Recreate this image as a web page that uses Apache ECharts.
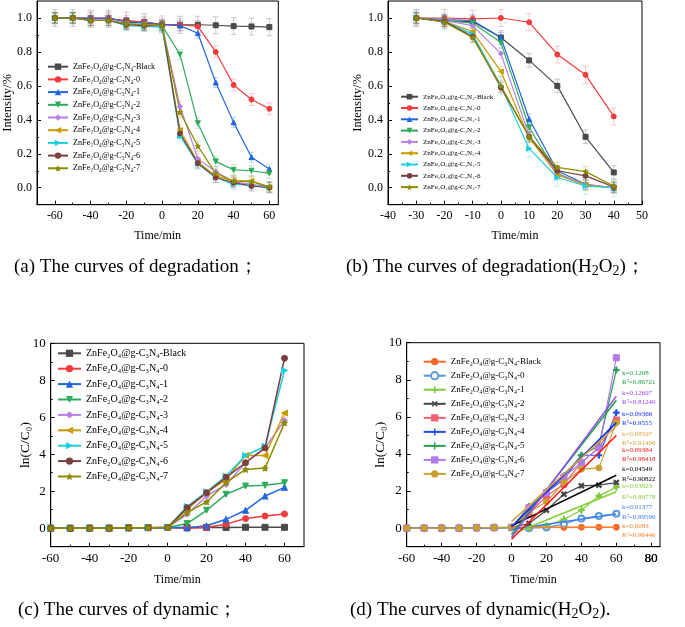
<!DOCTYPE html>
<html><head><meta charset="utf-8">
<script src="https://cdn.jsdelivr.net/npm/echarts@6/dist/echarts.min.js"></script>
<style>html,body{margin:0;padding:0;background:#fff}#c{width:685px;height:627px}</style>
</head><body><div id="c"></div>
<script>
// ---------------- DATA ----------------
const seriesLabels = ['ZnFe₂O₄@g-C₃N₄-Black','ZnFe₂O₄@g-C₃N₄-0','ZnFe₂O₄@g-C₃N₄-1','ZnFe₂O₄@g-C₃N₄-2',
  'ZnFe₂O₄@g-C₃N₄-3','ZnFe₂O₄@g-C₃N₄-4','ZnFe₂O₄@g-C₃N₄-5','ZnFe₂O₄@g-C₃N₄-6','ZnFe₂O₄@g-C₃N₄-7'];

// (a) degradation
const timeA = [-60,-50,-40,-30,-20,-10,0,10,20,30,40,50,60];
const degA = [
  [1.0,1.0,0.995,0.995,0.985,0.975,0.962,0.96,0.96,0.957,0.952,0.95,0.946],
  [1.0,1.0,1.0,1.0,0.98,0.975,0.96,0.96,0.95,0.80,0.605,0.52,0.465],
  [1.0,1.0,1.0,1.0,0.975,0.97,0.96,0.955,0.91,0.62,0.385,0.18,0.11],
  [1.0,1.0,0.985,0.985,0.965,0.96,0.955,0.785,0.38,0.155,0.105,0.10,0.085],
  [1.0,1.0,0.985,0.99,0.965,0.96,0.955,0.48,0.17,0.095,0.035,0.02,0.005],
  [1.0,1.0,0.985,0.985,0.965,0.96,0.955,0.34,0.15,0.07,0.04,0.04,0.005],
  [1.0,1.0,0.985,0.985,0.955,0.95,0.945,0.305,0.14,0.06,0.02,0.015,0.0],
  [1.0,1.0,0.985,0.985,0.96,0.955,0.955,0.32,0.145,0.06,0.03,0.01,0.0],
  [1.0,1.0,0.985,0.985,0.965,0.96,0.955,0.445,0.245,0.085,0.04,0.035,0.005]
];
const errA = [0.05,0.035,0.03,0.03,0.03,0.03,0.03,0.03,0.03];

// (b) degradation (H2O2)
const timeB = [-30,-20,-10,0,10,20,30,40];
const degB = [
  [1.0,0.98,0.98,0.885,0.75,0.60,0.30,0.09],
  [1.0,1.0,0.995,1.0,0.975,0.785,0.665,0.42],
  [1.0,0.99,0.985,0.885,0.405,0.10,0.02,0.0],
  [1.0,0.985,0.97,0.855,0.355,0.085,0.015,0.0],
  [1.0,0.985,0.955,0.79,0.31,0.08,0.02,0.0],
  [1.0,0.98,0.92,0.685,0.295,0.075,0.015,0.0],
  [1.0,0.98,0.905,0.60,0.23,0.06,0.01,0.0],
  [1.0,0.98,0.89,0.59,0.30,0.10,0.07,0.005],
  [1.0,0.975,0.885,0.60,0.30,0.12,0.095,0.01]
];
const errB = [0.04,0.05,0.03,0.03,0.03,0.03,0.05,0.03,0.03];

// (c)/(d) ln(C/C0)
const timeC = [-60,-50,-40,-30,-20,-10,0,10,20,30,40,50,60];
const lnC = [
  [0,0,0.01,0.01,0.02,0.03,0.04,0.04,0.04,0.04,0.05,0.05,0.05],
  [0,0,0,0,0.02,0.03,0.04,0.0,0.04,0.22,0.52,0.66,0.77],
  [0,0,0,0,0.02,0.03,0.04,0.02,0.13,0.48,0.97,1.74,2.21],
  [0,0,0,0,0.02,0.03,0.04,0.25,0.97,1.83,2.28,2.32,2.46],
  [0,0,0,0,0.02,0.03,0.04,0.75,1.74,2.37,3.54,4.34,5.83],
  [0,0,0,0,0.02,0.03,0.04,1.02,1.92,2.64,3.93,3.93,6.23],
  [0,0,0,0,0.02,0.03,0.04,1.17,1.97,2.82,3.93,4.43,8.53],
  [0,0,0,0,0.02,0.03,0.04,1.11,1.92,2.75,3.54,4.34,9.19],
  [0,0,0,0,0.02,0.03,0.04,0.84,1.42,2.46,3.18,3.25,5.69]
];

// (d) linear fits (0..60 min)
const fitX = [0,60];
const fitStart = [0.03,-0.07,-0.33,0.12,-0.6,0.07,-0.35,-0.5,0.35];
const fitEnd   = [0.05,0.76,1.96,2.85,5.0,5.69,6.9,7.12,5.5];
const fitK  = ['0.0003','0.01377','0.03823','0.04549','0.09384','0.09366','0.1208','0.12697','0.08597'];
const fitR2 = ['0.96446','0.89596','0.86778','0.90822','0.98418','0.9555','0.86721','0.81249','0.91406'];

// tick values
const xTicksA = [-60,-40,-20,0,20,40,60], xMinorA = [-70,-50,-30,-10,10,30,50];
const xTicksB = [-40,-30,-20,-10,0,10,20,30,40,50], xMinorB = [-35,-25,-15,-5,5,15,25,35,45];
const yTicksAB = [0,0.2,0.4,0.6,0.8,1.0], yMinorAB = [-0.1,0.1,0.3,0.5,0.7,0.9];
const xTicksC = [-60,-40,-20,0,20,40,60], xMinorC = [-50,-30,-10,10,30,50];
const xTicksD = [-60,-40,-20,0,20,40,60,80], xMinorD = [-50,-30,-10,10,30,50,70];
const yTicksCD = [0,2,4,6,8,10], yMinorCD = [-1,1,3,5,7,9];

// captions (rich-text markup: {s|..} = subscript)
const captions = ['{n|(a) The curves of degradation；}',
  '{n|(b) The curves of degradation(H}{s|2}{n|O}{s|2}{n|)；}',
  '{n|(c) The curves of dynamic；}',
  '{n|(d) The curves of dynamic(H}{s|2}{n|O}{s|2}{n|).}'];

// ---------------- STYLE / LAYOUT ----------------
const SERIF = '"Liberation Serif","Times New Roman",serif';
const colorsABC = ['#4a4a4a','#f03c3c','#2266dd','#2eaa5c','#b57fe6','#c89b00','#1ad0e0','#7b3f3f','#8c8c00'];
const colorsD   = ['#f26a2a','#5a9ad8','#7ec83c','#444444','#f06070','#2050f0','#28a050','#b07ae8','#c9a030'];
const fitColors = ['#ff7f27','#3a7ff0','#7fd030','#000000','#ff1010','#0a2dff','#14a03c','#9a40ff','#d8a040'];
const STAR = 'path://M0,-10L2.9,-4L9.5,-3.1L4.7,1.5L5.9,8.1L0,5L-5.9,8.1L-4.7,1.5L-9.5,-3.1L-2.9,-4Z';
const PLUS = 'path://M-1,-5H1V-1H5V1H1V5H-1V1H-5V-1H-1Z';
const symABC = [['rect',0],['circle',0],['triangle',0],['triangle',180],['diamond',0],['triangle',90],['triangle',-90],['circle',0],[STAR,0]];
const symD = [['circle',0],['emptyCircle',0],[PLUS,0],[PLUS,45],['rect',0],[PLUS,0],[PLUS,0],['rect',0],['circle',0]];

const grids = [
  {left:35.5, top:1, width:242.8, height:203.7},
  {left:388, top:1, width:254, height:203.7},
  {left:50.7, top:343.3, width:253.3, height:203.4},
  {left:406.7, top:342.7, width:253.3, height:204}
];

const xAxes = [], yAxes = [];
function addAxes(g, xr, yr, xt, xm, yt, ym, fs, xName, yName, xGap, yGap, yFmt, nfs) {
  const base = {gridIndex:g, type:'value', splitLine:{show:false}, nameMoveOverlap:false};
  xAxes.push(Object.assign({}, base, {min:xr[0], max:xr[1], position:'bottom',
    axisLine:{show:true, onZero:false, lineStyle:{color:'#000', width:1}},
    axisTick:{show:true, inside:true, length:4, customValues:xt, lineStyle:{color:'#000'}},
    axisLabel:{customValues:xt, color:'#000', fontFamily:SERIF, fontSize:fs, margin:5,
      showMinLabel:true, showMaxLabel:true, hideOverlap:false},
    name:xName, nameLocation:'middle', nameGap:xGap,
    nameTextStyle:{color:'#000', fontFamily:SERIF, fontSize:12}}));
  xAxes.push(Object.assign({}, base, {min:xr[0], max:xr[1], position:'bottom',
    axisLine:{show:false, onZero:false},
    axisTick:{show:true, inside:true, length:2, customValues:xm, lineStyle:{color:'#000'}},
    axisLabel:{show:false}}));
  yAxes.push(Object.assign({}, base, {min:yr[0], max:yr[1], position:'left',
    axisLine:{show:true, onZero:false, lineStyle:{color:'#000', width:1}},
    axisTick:{show:true, inside:true, length:4, customValues:yt, lineStyle:{color:'#000'}},
    axisLabel:{customValues:yt, color:'#000', fontFamily:SERIF, fontSize:fs, margin:5, formatter:yFmt,
      showMinLabel:true, showMaxLabel:true},
    name:yName, nameLocation:'middle', nameGap:yGap, nameRotate:90,
    nameTextStyle:{color:'#000', fontFamily:SERIF, fontSize:nfs}}));
  yAxes.push(Object.assign({}, base, {min:yr[0], max:yr[1], position:'left',
    axisLine:{show:false, onZero:false},
    axisTick:{show:true, inside:true, length:2, customValues:ym, lineStyle:{color:'#000'}},
    axisLabel:{show:false}}));
}
const f1 = v => v.toFixed(1);
const f0 = v => String(Math.round(v));
addAxes(0, [-70,65], [-0.1,1.1], xTicksA, xMinorA, yTicksAB, yMinorAB, 12, 'Time/min', 'Intensity/%', 25, 23, f1, 12.5);
addAxes(1, [-40,50], [-0.1,1.1], xTicksB, xMinorB, yTicksAB, yMinorAB, 12, 'Time/min', 'Intensity/%', 25, 24, f1, 12.5);
addAxes(2, [-60,70], [-1,10], xTicksC, xMinorC, yTicksCD, yMinorCD, 13, 'Time/min', 'ln(C/C₀)', 27, 18, f0, 13.5);
addAxes(3, [-60,85], [-1,10], xTicksD, xMinorD, yTicksCD, yMinorCD, 13, 'Time/min', 'ln(C/C₀)', 27, 19.5, f0, 13.5);

const series = [];
function errSeries(g, times, vals, e, color) {
  return {type:'custom', xAxisIndex:2*g, yAxisIndex:2*g, silent:true, z:1,
    data: times.map((t,j)=>[t, vals[j]-e, vals[j]+e]),
    encode:{x:0, y:[1,2]},
    renderItem:(params, api)=>{
      const x = api.value(0);
      const lo = api.coord([x, api.value(1)]), hi = api.coord([x, api.value(2)]);
      const st = {stroke:color, lineWidth:0.8, opacity:0.35};
      return {type:'group', children:[
        {type:'line', shape:{x1:lo[0],y1:lo[1],x2:hi[0],y2:hi[1]}, style:st},
        {type:'line', shape:{x1:lo[0]-3,y1:lo[1],x2:lo[0]+3,y2:lo[1]}, style:st},
        {type:'line', shape:{x1:hi[0]-3,y1:hi[1],x2:hi[0]+3,y2:hi[1]}, style:st}]};
    }};
}
function lineSeries(name, g, times, vals, color, sym, size, lw) {
  return {type:'line', name, xAxisIndex:2*g, yAxisIndex:2*g, z:3,
    data: times.map((t,j)=>[t, vals[j]]),
    symbol:sym[0], symbolRotate:sym[1], symbolSize:size, showAllSymbol:true,
    lineStyle:{color, width:lw}, itemStyle:{color, borderColor:color}, animation:false};
}
for (let i=0;i<9;i++) series.push(errSeries(0, timeA, degA[i], errA[i], colorsABC[i]));
for (let i=0;i<9;i++) series.push(lineSeries('a'+i, 0, timeA, degA[i], colorsABC[i], symABC[i], 5, 1.2));
for (let i=0;i<9;i++) series.push(errSeries(1, timeB, degB[i], errB[i], colorsABC[i]));
for (let i=0;i<9;i++) series.push(lineSeries('b'+i, 1, timeB, degB[i], colorsABC[i], symABC[i], 5, 1.2));
for (let i=0;i<9;i++) series.push(lineSeries('c'+i, 2, timeC, lnC[i], colorsABC[i], symABC[i], 6, 1.5));
for (let i=0;i<9;i++) series.push(lineSeries('d'+i, 3, timeC, lnC[i], colorsD[i], symD[i], 6, 1.2));
for (let i=0;i<9;i++) series.push({type:'line', xAxisIndex:6, yAxisIndex:6, z:4, silent:true,
  data: fitX.map((x,j)=>[x, j===0?fitStart[i]:fitEnd[i]]), symbol:'none',
  lineStyle:{color:fitColors[i], width:1.5}, animation:false});

function legend(prefix, left, top, iw, ih, gap, fs, lh) {
  return {data: seriesLabels.map((_,i)=>prefix+i), orient:'vertical', left, top,
    itemWidth:iw, itemHeight:ih, itemGap:gap, padding:0,
    formatter: n => seriesLabels[+n.slice(1)],
    textStyle:{fontFamily:SERIF, fontSize:fs, color:'#000', lineHeight:lh}};
}
const legends = [
  legend('a', 47, 62.2, 20, 8, 3.7, 8.2, 9),
  legend('b', 400, 93.2, 17, 7, 4.3, 7, 7),
  legend('c', 57, 347.8, 23, 9, 4.4, 10, 11),
  legend('d', 422.7, 356.7, 22, 9, 4, 9, 10)
];

// annotation text (d) : index of fit, y position
const annOrder = [6,7,5,8,4,3,2,1,0];
const annY = [[373.3,382.7],[393.3,402.7],[415,424],[434.7,444],[450.7,460],[470,480],[486.7,497.3],[507.3,517.3],[526.7,536]];
const graphics = [];
annOrder.forEach((fi,k)=>{
  graphics.push({type:'text', left:622, top:annY[k][0]-4, style:{text:'k='+fitK[fi], fill:fitColors[fi], font:'7px '+SERIF}});
  graphics.push({type:'text', left:622, top:annY[k][1]-4, style:{text:'R²='+fitR2[fi], fill:fitColors[fi], font:'7px '+SERIF}});
});
const capPos = [[14,269],[346,269],[18,612],[350,612]];
captions.forEach((t,i)=>graphics.push({type:'text', left:capPos[i][0], top:capPos[i][1]-11,
  style:{text:t, fill:'#000', rich:{
    n:{fontFamily:SERIF, fontSize:19, lineHeight:22, verticalAlign:'middle', fill:'#000'},
    s:{fontFamily:SERIF, fontSize:14, lineHeight:14, verticalAlign:'bottom', fill:'#000'}}}}));

const chart = echarts.init(document.getElementById('c'), null, {renderer:'canvas'});
chart.setOption({
  backgroundColor:'#fff', animation:false,
  grid: grids.map(g=>Object.assign({show:true, borderColor:'#000', borderWidth:1, backgroundColor:'transparent', containLabel:false}, g)),
  xAxis:xAxes, yAxis:yAxes, legend:legends, series, graphic:graphics
});
// tick label "80" on panel (d): placed through the axis scale (the library hides this last label)
const lastD = xTicksD[xTicksD.length-1];
const p80 = chart.convertToPixel({xAxisIndex:6, yAxisIndex:6}, [lastD, -1]);
chart.setOption({graphic: graphics.concat([{type:'text', id:'d80', x:Math.round(p80[0]), y:Math.round(p80[1])+5,
  style:{text:String(lastD), fill:'#000', font:'13px '+SERIF, stroke:'none', lineWidth:0,
    align:'center', verticalAlign:'top'}, silent:true}])});
</script></body></html>
